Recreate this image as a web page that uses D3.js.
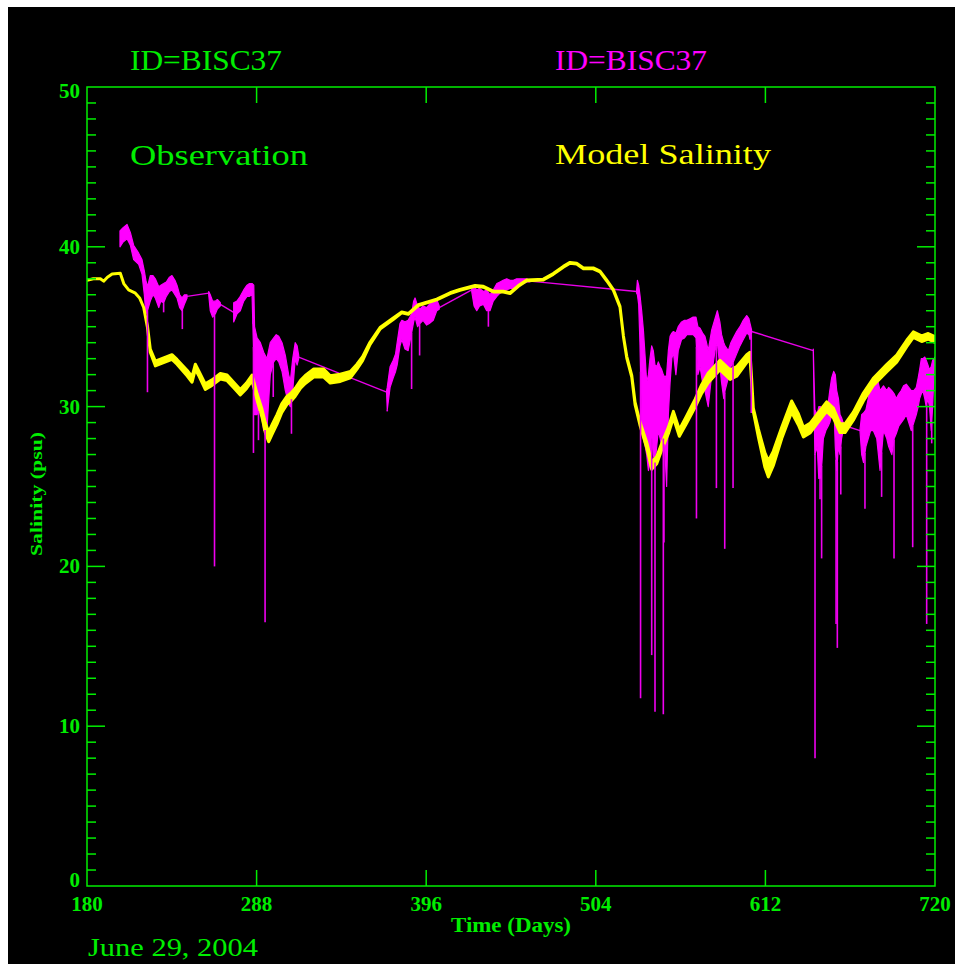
<!DOCTYPE html>
<html><head><meta charset="utf-8">
<script src="https://cdn.jsdelivr.net/npm/d3@7"></script>
<style>html,body{margin:0;padding:0;background:#fff;overflow:hidden}</style>
</head><body><svg id="c" width="955" height="964"></svg>
<script>
// ---------- DATA ----------
const modelDays = [180,184,188.5,190.6,193,196,201.2,203.4,206.5,210.8,213.5,216.1,218.5,220.3,223.5,228.8,234.1,237.3,243.7,246.9,249,251.1,255.3,259.6,264.9,269.2,273.4,277.6,281.5,285.1,288.3,291.4,293.5,295.7,298,301,304,307.4,310,312.6,316,319,324.4,330.7,334.9,341.3,347.7,351.9,355.5,360.2,366.6,375,380.4,384.6,391,402.7,411.2,417.5,427.1,432.4,438.7,445.1,449.4,454.7,460,470.6,476.9,483.3,487.6,491.8,496.1,502.4,506.7,510.9,515.2,519.4,521.6,523.7,526.9,529,532.1,536.4,539.6,542.8,546,550.2,553.4,557.2,561.9,567.2,571.4,575.6,583.1,589.5,593.7,600.1,602.2,603.2,604.3,607.5,611.7,613.9,617,622.4,628.7,633,636.2,640.4,644.7,651,655.3,659.5,662.7,668,674.4,680.7,689.2,695.6,702,706.2,711.5,715.7,720];
const modelValues = [37.9,38.0,38.0,37.85,38.1,38.3,38.35,37.7,37.3,37.1,36.8,36.2,35.0,33.5,32.7,32.9,33.1,32.8,32.1,31.7,32.5,32.1,31.25,31.5,31.9,31.8,31.35,30.9,31.3,31.8,30.6,29.6,28.7,28.1,28.6,29.2,29.9,30.4,30.6,30.9,31.4,31.7,32.1,32.1,31.7,31.8,32.0,32.5,33.0,33.95,34.9,35.5,35.9,35.8,36.35,36.7,37.1,37.3,37.55,37.5,37.2,37.2,37.1,37.55,37.9,37.95,38.3,38.75,39.0,38.95,38.65,38.65,38.45,37.9,37.3,36.25,34.4,33.1,31.9,30.2,28.95,27.6,26.3,26.65,27.5,28.5,29.5,28.35,29.2,30.2,31.1,31.8,32.6,32.0,32.2,33.0,33.2,31.7,29.8,28.35,26.65,26.1,26.75,28.35,30.0,29.2,28.4,28.65,29.2,30.0,29.6,28.65,28.65,29.4,30.6,31.55,32.4,33.0,33.95,34.5,34.25,34.4,34.2];
const modelSpread = [0,0,0,0,0,0,0,0,0,0,0,0,0.1,0.2,0.3,0.3,0.3,0.3,0.35,0.35,0.3,0.3,0.35,0.35,0.35,0.35,0.35,0.35,0.35,0.35,0.4,0.5,0.6,0.6,0.6,0.6,0.55,0.5,0.5,0.5,0.5,0.5,0.5,0.5,0.45,0.45,0.4,0.3,0.25,0.15,0.1,0.1,0.05,0.05,0.05,0.05,0.05,0.05,0.05,0.05,0.05,0.05,0.05,0.05,0.05,0.05,0.05,0.05,0.05,0.05,0.05,0.05,0.05,0.05,0.05,0.05,0.05,0.1,0.1,0.15,0.2,0.35,0.45,0.45,0.4,0.4,0.4,0.4,0.45,0.5,0.55,0.6,0.6,0.6,0.6,0.5,0.4,0.2,0.2,0.5,0.9,1.0,0.9,0.7,0.7,0.7,0.6,0.6,0.6,0.6,0.6,0.55,0.55,0.5,0.5,0.45,0.45,0.45,0.4,0.35,0.35,0.35,0.35];

const obsDays = [201,203,205.5,207.6,209.7,212.9,215,216.5,217.5,218.5,220.3,222,223.5,225.7,227,228.8,230.5,232.5,234.1,236,237.3,239,240.5,242,243.7,
 257.5,258.5,260,261.7,263,264.9,
 273.4,275.5,277.6,279.8,281.9,283.5,285.1,286.2,286.7,288.3,290.4,292.5,294.6,296.7,298.9,300.5,302.1,304.2,306.3,308.4,309.5,311,312.6,313.8,314.8,
 370.8,371.2,373,375,376.5,377.5,379.3,380.5,382.5,384.5,386.7,388,388.9,390.5,392,394,396.3,398,400.5,402.7,404.3,
 425,426.5,428.2,430,432.4,434.5,436.6,438.7,441,443,445,447.3,449.4,451.5,453.6,455.7,458,460,462,
 530,530.5,531.3,532.1,533.2,534.3,535.5,536.4,537.5,538.5,539.6,540.6,541.7,542.8,543.8,545,546,547,548.1,549.1,550.2,551.3,552.4,553.4,555,556.5,558.6,560.5,562,564,566,567.8,569,570.4,572,573.5,574.5,575.6,577.8,579.9,581.4,583,584.1,585.5,586.3,588.4,590,591.6,593.7,595.8,597.9,600.1,601.5,602.2,603.2,
 642.5,643.5,645,646,647,648,648.9,650.5,652.1,653,654.2,655.5,656.5,657.4,658.5,659.5,660.5,661.5,662.7,
 672.3,673.3,674.5,676,677.5,679,680.7,682.9,685,687.2,689.3,690.5,692.5,694,695.3,697,698.5,700,701.7,703.3,704.9,706.5,708.1,709.3,710.2,711.3,712.3,713.5,714.4,715.5,716.5,717.6,718.5,719.5,720];
const obsHigh = [41.0,41.2,41.4,40.9,40.1,39.6,39.2,38.5,37.9,37.5,38.2,38.2,38.0,37.5,37.6,37.7,37.8,38.1,38.2,37.9,37.6,37.0,36.8,37.0,37.0,
 37.2,37.0,36.6,36.6,36.7,36.5,
 36.5,36.6,36.9,37.3,37.6,37.7,37.7,37.6,35.0,34.3,34.0,33.4,33.0,34.0,34.3,34.5,34.4,34.0,33.2,32.0,31.6,33.0,34.0,33.8,33.2,
 31.0,31.2,32.5,32.9,33.3,34.0,35.2,35.4,35.3,35.4,35.8,36.6,36.8,36.3,36.1,36.3,36.2,36.4,36.6,36.7,36.3,
 37.4,37.5,37.3,37.4,37.2,37.3,37.0,37.3,37.7,37.8,37.9,38.0,37.9,37.9,38.0,38.0,38.0,38.0,37.9,
 37.3,37.9,37.6,37.0,36.0,34.8,33.0,31.5,32.0,33.0,33.8,33.5,32.6,32.5,32.8,32.5,32.3,32.0,31.8,32.0,33.5,34.4,34.6,34.7,34.6,35.0,35.3,35.4,35.4,35.5,35.6,35.6,35.0,34.9,34.6,34.4,34.0,33.5,34.8,35.5,36.0,35.3,34.5,34.0,33.8,33.5,34.0,34.3,34.7,35.0,35.4,35.7,35.5,35.2,34.8,
 33.6,29.8,29.5,30.0,30.0,29.8,29.8,30.0,30.3,31.0,31.8,32.2,32.0,31.0,30.5,29.5,29.3,29.0,28.9,
 28.6,29.5,29.6,29.8,30.5,31.2,31.8,31.9,31.0,31.3,31.0,31.2,31.0,30.8,30.5,30.8,31.0,31.3,31.4,31.2,31.0,31.0,31.2,31.8,32.3,33.0,33.0,33.1,32.9,32.6,32.3,32.5,32.9,33.0,33.1];
const obsLow = [40.0,40.3,40.5,40.1,39.2,38.9,38.3,37.0,35.8,36.0,36.6,37.0,36.8,36.2,36.6,36.5,36.9,37.2,37.3,37.0,36.8,36.2,36.0,36.4,36.8,
 37.0,36.0,35.6,35.8,36.1,36.3,
 35.3,35.8,36.0,36.6,36.9,36.9,37.0,33.0,29.5,29.5,30.0,28.5,28.6,32.0,32.8,33.0,32.8,32.2,31.0,30.2,30.0,31.0,33.0,32.6,33.0,
 30.8,29.8,31.2,31.8,32.2,32.6,33.8,34.2,33.6,33.5,34.6,35.3,35.6,35.0,35.2,35.4,35.1,35.2,35.4,36.0,36.1,
 37.2,36.3,36.0,36.3,36.4,36.0,36.0,36.6,36.9,37.1,37.2,37.3,37.4,37.4,37.5,37.6,37.7,37.8,37.8,
 37.1,37.0,36.4,34.0,29.0,28.0,27.5,27.0,26.0,26.5,28.0,27.0,26.5,27.5,28.5,28.0,27.5,28.0,27.0,25.0,29.5,31.5,33.0,33.4,32.0,33.5,34.2,34.3,34.5,34.5,34.5,34.3,32.0,32.5,31.5,31.0,30.5,30.0,32.0,33.5,34.0,32.5,31.5,30.5,31.0,31.8,32.5,32.8,33.3,33.8,34.2,34.6,34.5,34.2,34.6,
 33.4,27.0,27.5,25.5,25.5,26.5,28.0,28.5,28.8,29.0,29.5,30.5,27.5,26.0,27.5,27.0,28.0,28.5,28.7,
 28.4,27.0,26.5,27.5,28.0,28.5,28.5,28.0,26.0,28.5,28.0,27.5,27.0,28.0,28.3,28.8,29.0,29.2,29.5,29.0,28.5,29.0,29.5,30.0,30.5,30.8,31.0,30.5,30.0,30.5,30.0,28.5,30.0,32.5,32.8];

const spikeDays = [218.5,228.8,240.7,261.2,285.6,286.0,289.2,293.4,298.6,310.2,371.2,386.7,391.8,435.6,532.5,539.6,541.7,547.0,547.4,568.1,580.8,586.1,591.4,603.0,643.6,646.8,647.8,657.0,657.8,660.0,675.4,686.0,693.9,705.8,714.7,717.9];
const spikeMins = [30.9,35.9,34.85,20.0,35.5,27.1,27.9,16.5,30.6,28.3,29.7,31.1,33.2,35.0,11.75,14.45,10.9,10.75,21.5,23.0,24.9,21.1,24.9,29.6,8.0,24.2,20.5,16.4,14.9,24.5,23.6,24.35,20.5,21.2,16.4,27.7];

const xTickValues = [180,288,396,504,612,720];
const yTickValues = [0,10,20,30,40,50];
const stationLabel = "ID=BISC37";
const obsLabel = "Observation";
const modelLabel = "Model Salinity";
const xTitle = "Time (Days)";
const yTitle = "Salinity (psu)";
const dateLabel = "June 29, 2004";

// ---------- DRAW ----------
const GREEN = "#00ee00", MAG = "#ff00ff", YEL = "#ffff00";
const svg = d3.select("#c");
svg.append("rect").attr("x",8).attr("y",7).attr("width",947).attr("height",957).attr("fill","#000");

const L = 87, R = 935, T = 87, B = 886;
const x = d3.scaleLinear().domain([180,720]).range([L,R]);
const y = d3.scaleLinear().domain([0,50]).range([B,T]);

const plot = svg.append("g");
svg.append("clipPath").attr("id","clp").append("rect")
  .attr("x",L).attr("y",T).attr("width",R-L).attr("height",B-T);
plot.attr("clip-path","url(#clp)");

// observation segments (split where the record has a gap)
const segs = []; let cur = [];
obsDays.forEach((d,i)=>{
  if (i>0 && d - obsDays[i-1] > 4) { segs.push(cur); cur = []; }
  cur.push({d, hi: obsHigh[i], lo: obsLow[i]});
});
segs.push(cur);

for (let k=0;k<segs.length-1;k++){
  const a = segs[k][segs[k].length-1], b = segs[k+1][0];
  plot.append("line")
    .attr("x1",x(a.d)).attr("y1",y((a.hi+a.lo)/2))
    .attr("x2",x(b.d)).attr("y2",y((b.hi+b.lo)/2))
    .attr("stroke","#e800e8").attr("stroke-width",1.4);
}
const area = d3.area().x(p=>x(p.d)).y0(p=>y(p.lo)).y1(p=>y(p.hi));
segs.forEach(s=>{
  plot.append("path").datum(s).attr("d",area)
    .attr("fill",MAG).attr("stroke",MAG).attr("stroke-width",1.2).attr("stroke-linejoin","round");
});

// model
const model = modelDays.map((d,i)=>({d, v: modelValues[i], s: modelSpread[i]}));
plot.append("path").datum(model)
  .attr("d", d3.area().x(p=>x(p.d)).y0(p=>y(p.v - p.s/2)).y1(p=>y(p.v + p.s/2)))
  .attr("fill",YEL).attr("stroke",YEL).attr("stroke-width",3).attr("stroke-linejoin","round");

// spikes
function lowAt(d){
  const i = d3.bisector(v=>v).right(obsDays, d) - 1;
  const j = Math.min(i+1, obsDays.length-1);
  if (j===i) return obsLow[i];
  const t = (d - obsDays[i])/(obsDays[j]-obsDays[i]);
  return obsLow[i] + t*(obsLow[j]-obsLow[i]);
}
spikeDays.forEach((d,i)=>{
  plot.append("line")
    .attr("x1",x(d)).attr("x2",x(d))
    .attr("y1",y(lowAt(d))).attr("y2",y(spikeMins[i]))
    .attr("stroke","#f000f0").attr("stroke-width",1.6);
});

// frame and ticks
const ax = svg.append("g").attr("stroke",GREEN).attr("stroke-width",1.5).attr("fill","none");
ax.append("rect").attr("x",L).attr("y",T).attr("width",R-L).attr("height",B-T);
d3.range(1,50).forEach(v=>{
  const len = v%10===0 ? 18 : 9;
  ax.append("line").attr("x1",L).attr("x2",L+len).attr("y1",y(v)).attr("y2",y(v));
  ax.append("line").attr("x1",R).attr("x2",R-len).attr("y1",y(v)).attr("y2",y(v));
});
xTickValues.slice(1,-1).forEach(t=>{
  ax.append("line").attr("x1",x(t)).attr("x2",x(t)).attr("y1",B).attr("y2",B-16);
  ax.append("line").attr("x1",x(t)).attr("x2",x(t)).attr("y1",T).attr("y2",T+16);
});

// labels
const tf = "'Liberation Serif', 'Times New Roman', serif";
const txt = svg.append("g").attr("font-family",tf);
xTickValues.forEach(t=>{
  txt.append("text").attr("x",x(t)).attr("y",911).attr("text-anchor","middle")
    .attr("font-size",21).attr("font-weight","bold").attr("fill",GREEN).text(t);
});
yTickValues.forEach(t=>{
  const cy = Math.max(91, Math.min(880, y(t)));
  txt.append("text").attr("x",80).attr("y",cy+7).attr("text-anchor","end")
    .attr("font-size",21).attr("font-weight","bold").attr("fill",GREEN).text(t);
});

function label(s, px, py, size, color, len, weight){
  return txt.append("text").attr("x",px).attr("y",py).attr("font-size",size)
    .attr("font-weight",weight||"normal").attr("fill",color)
    .attr("textLength",len).attr("lengthAdjust","spacingAndGlyphs").text(s);
}
label(stationLabel,130,70,29,GREEN,152);
label(stationLabel,555,70,29,MAG,152);
label(obsLabel,130,165,29,GREEN,178);
label(modelLabel,555,164,29,YEL,216);
label(xTitle,451,932,21,GREEN,120,"bold");
label(dateLabel,88,956,25,GREEN,170);
txt.append("text").attr("transform","translate(42,556) rotate(-90)")
  .attr("font-size",17).attr("font-weight","bold").attr("fill",GREEN)
  .attr("textLength",124).attr("lengthAdjust","spacingAndGlyphs").text(yTitle);
</script>
</body></html>
